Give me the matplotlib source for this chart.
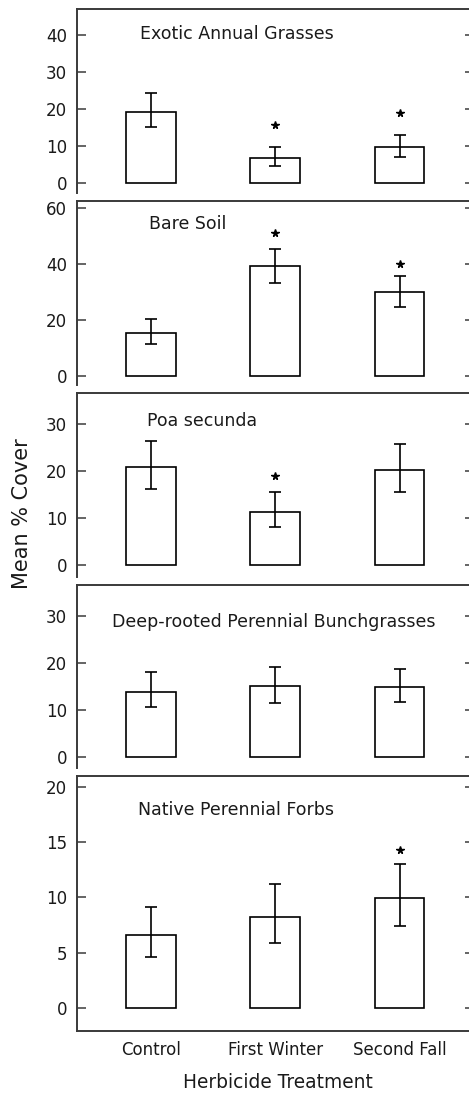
import matplotlib
matplotlib.use("Agg")
import matplotlib.pyplot as plt
import numpy as np

# %%
treatments = ["Control", "First Winter", "Second Fall"]
panel_titles = [
    "Exotic Annual Grasses",
    "Bare Soil",
    "Poa secunda",
    "Deep-rooted Perennial Bunchgrasses",
    "Native Perennial Forbs",
]

# mean % cover, lower / upper error bar ends, and "*" heights (None = no star)
exotic_mean = [19.3, 6.7, 9.7]
exotic_low = [15.0, 4.6, 7.0]
exotic_high = [24.2, 9.7, 13.1]
exotic_star = [None, 15.8, 18.8]

bare_mean = [15.5, 39.2, 29.9]
bare_low = [11.5, 33.2, 24.7]
bare_high = [20.4, 45.3, 35.6]
bare_star = [None, 51.2, 40.2]

poa_mean = [20.9, 11.3, 20.2]
poa_low = [16.1, 8.1, 15.6]
poa_high = [26.5, 15.5, 25.7]
poa_star = [None, 18.9, None]

deep_mean = [13.8, 15.0, 14.8]
deep_low = [10.5, 11.5, 11.6]
deep_high = [18.0, 19.1, 18.7]
deep_star = [None, None, None]

forbs_mean = [6.6, 8.2, 9.9]
forbs_low = [4.6, 5.9, 7.4]
forbs_high = [9.15, 11.2, 13.0]
forbs_star = [None, None, 14.3]

yticks = [
    [0, 10, 20, 30, 40],
    [0, 20, 40, 60],
    [0, 10, 20, 30],
    [0, 10, 20, 30],
    [0, 5, 10, 15, 20],
]

# %%
# layout in pixels of the 469x1093 figure
W, H = 469, 1093
ax_left_px, ax_right_px = 77, 473.5
panel_top_px = [9, 201, 392.5, 585, 776]
panel_bot_px = [193, 385, 576.7, 768, 1031]
ylims = [(-2.7, 47.0), (-3.24, 62.6), (-2.43, 36.7), (-2.4, 36.5), (-2.08, 20.96)]
title_pos_px = [(140, 34), (149, 224), (147, 421), (112, 622), (138, 810)]

spine_col = "#3a3a3a"

means = [exotic_mean, bare_mean, poa_mean, deep_mean, forbs_mean]
lows = [exotic_low, bare_low, poa_low, deep_low, forbs_low]
highs = [exotic_high, bare_high, poa_high, deep_high, forbs_high]
stars = [exotic_star, bare_star, poa_star, deep_star, forbs_star]

fig = plt.figure(figsize=(W / 100, H / 100), dpi=100)
x = np.arange(len(treatments))

for i in range(5):
    rect = [
        ax_left_px / W,
        1 - panel_bot_px[i] / H,
        (ax_right_px - ax_left_px) / W,
        (panel_bot_px[i] - panel_top_px[i]) / H,
    ]
    ax = fig.add_axes(rect)
    m = np.array(means[i])
    lo = m - np.array(lows[i])
    hi = np.array(highs[i]) - m
    ax.bar(x, m, width=0.40, color="white", edgecolor="black", linewidth=1.2)
    ax.errorbar(x, m, yerr=[lo, hi], fmt="none", ecolor="black",
                elinewidth=1.2, capsize=4.5, capthick=1.2)
    for xi, s in zip(x, stars[i]):
        if s is not None:
            ax.plot(xi, s, marker="*", color="black", markersize=5.5, linestyle="none")

    ax.set_xlim(-0.595, 2.595)
    ax.set_ylim(*ylims[i])
    ax.set_yticks(yticks[i])
    ax.tick_params(axis="y", direction="in", length=6.5, width=1.1, color=spine_col,
                   left=True, right=True, labelsize=12, pad=7, labelcolor="#1a1a1a")
    for side in ["left", "right", "top", "bottom"]:
        ax.spines[side].set_color(spine_col)
        ax.spines[side].set_linewidth(1.4)

    if i < 4:
        ax.spines["bottom"].set_visible(False)
        ax.set_xticks([])
    else:
        ax.set_xticks(x)
        ax.set_xticklabels(treatments)
        ax.tick_params(axis="x", length=0, labelsize=12, pad=7, labelcolor="#1a1a1a")

    tx, ty = title_pos_px[i]
    fig.text(tx / W, 1 - ty / H, panel_titles[i], ha="left", va="center",
             fontsize=12.5, color="#1a1a1a")

fig.text(22 / W, 1 - 514 / H, "Mean % Cover", rotation=90, ha="center", va="center",
         fontsize=15, color="#1a1a1a")
fig.text(278 / W, 1 - 1083 / H, "Herbicide Treatment", ha="center", va="center",
         fontsize=13.4, color="#1a1a1a")

fig.savefig("out.png", dpi=100)
